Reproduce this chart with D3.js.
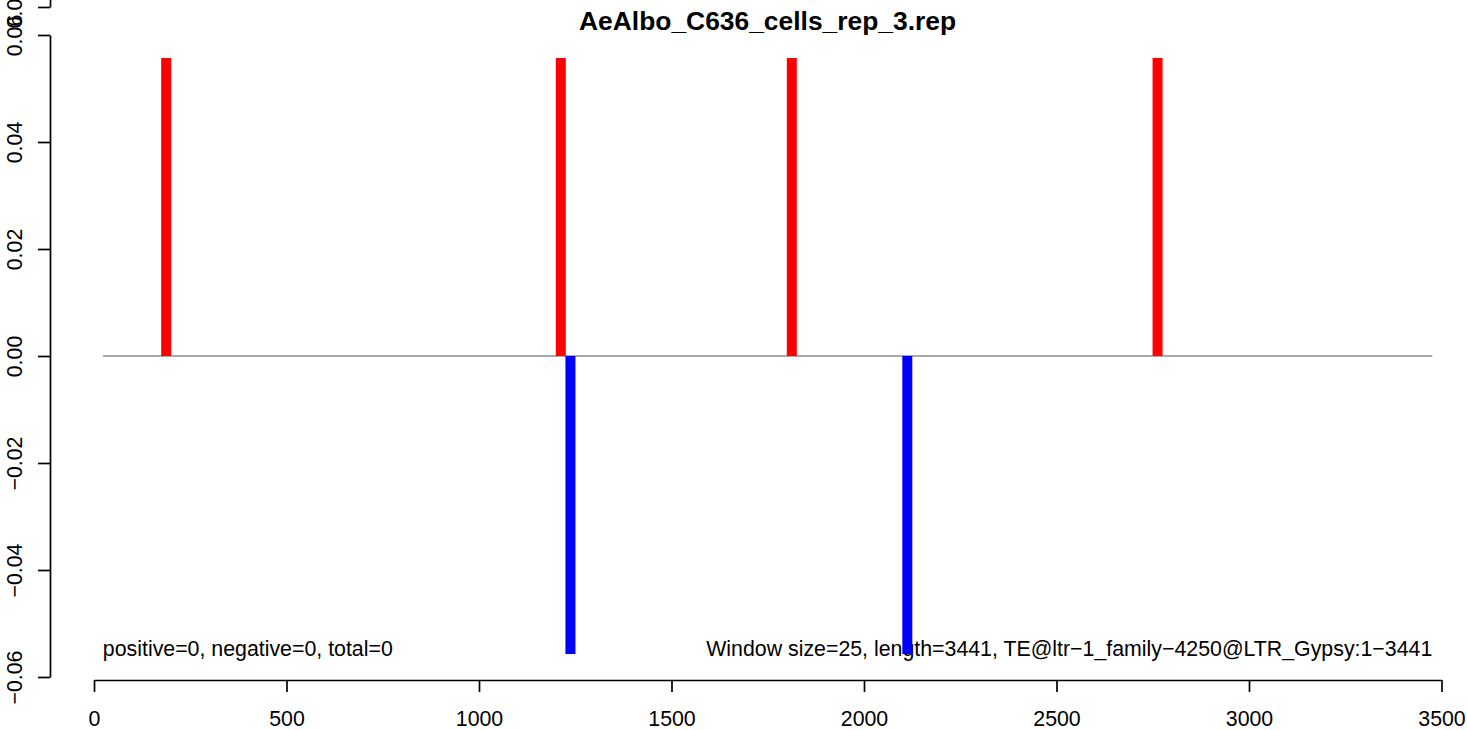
<!DOCTYPE html>
<html>
<head>
<meta charset="utf-8">
<script src="https://cdn.jsdelivr.net/npm/d3@7"></script>
<style>
  html, body { margin: 0; padding: 0; background: #fff; }
  svg { display: block; }
  text { font-family: "Liberation Sans", Arial, Helvetica, sans-serif; }
</style>
</head>
<body>
<svg id="chart" width="1467" height="730"></svg>
<script>
// ---------------- data ----------------
const title = "AeAlbo_C636_cells_rep_3.rep";
const windowSize = 25;
const seqLength = 3441;
const teName = "TE@ltr\u22121_family\u22124250@LTR_Gypsy:1\u22123441";
const positiveWindows = [175, 1200, 1800, 2750];          // window start positions
const positiveValues  = [0.0557, 0.0557, 0.0557, 0.0557];
const negativeWindows = [1225, 2100];
const negativeValues  = [-0.0557, -0.0557];
const xTicks = [0, 500, 1000, 1500, 2000, 2500, 3000, 3500];
const yTicks = [-0.06, -0.04, -0.02, 0.00, 0.02, 0.04, 0.06];
const overlayYTicks = [0.06];   // second (overlaid) axis, mostly off-screen
const plotXExtent = [23, 3476]; // plot region in data units (zero line span)
const counts = { positive: 0, negative: 0, total: 0 };

// ---------------- layout ----------------
const baseFont = 21.33;
const svg = d3.select("#chart");

const x = d3.scaleLinear().domain([0, 3500]).range([94, 1441.5]);
const y = d3.scaleLinear().domain([-0.06, 0.06]).range([677, 35]);
const y2 = d3.scaleLinear().domain([0.06, 0.08]).range([7, -100]);

const axisX = 50, axisY = 680;
const fmt = d3.format(".2f");

// Title
svg.append("text")
  .attr("x", (x(plotXExtent[0]) + x(plotXExtent[1])) / 2)
  .attr("y", 30)
  .attr("text-anchor", "middle")
  .attr("font-weight", "bold")
  .attr("font-size", 26.4)
  .text(title);

// Zero line
svg.append("line")
  .attr("x1", x(plotXExtent[0])).attr("x2", x(plotXExtent[1]))
  .attr("y1", y(0)).attr("y2", y(0))
  .attr("stroke", "#8c8c8c").attr("stroke-width", 1.6);

// Bottom annotations (drawn before bars; bars overlap the text)
svg.append("text")
  .attr("x", x(plotXExtent[0])).attr("y", 656)
  .attr("font-size", baseFont)
  .text(`positive=${counts.positive}, negative=${counts.negative}, total=${counts.total}`);
svg.append("text")
  .attr("x", x(plotXExtent[1])).attr("y", 656)
  .attr("text-anchor", "end")
  .attr("font-size", baseFont)
  .text(`Window size=${windowSize}, length=${seqLength}, ${teName}`);

// Bars
const barW = 10;
const pos = positiveWindows.map((s, i) => ({ mid: s + windowSize / 2, v: positiveValues[i] }));
const neg = negativeWindows.map((s, i) => ({ mid: s + windowSize / 2, v: negativeValues[i] }));
svg.append("g").selectAll("line").data(pos).join("line")
  .attr("x1", d => x(d.mid)).attr("x2", d => x(d.mid))
  .attr("y1", y(0)).attr("y2", d => y(d.v))
  .attr("stroke", "#ff0000").attr("stroke-width", barW);
svg.append("g").selectAll("line").data(neg).join("line")
  .attr("x1", d => x(d.mid)).attr("x2", d => x(d.mid))
  .attr("y1", y(0)).attr("y2", d => y(d.v))
  .attr("stroke", "#0000ff").attr("stroke-width", barW);

// X axis
const gx = svg.append("g").attr("transform", `translate(0,${axisY})`)
  .call(d3.axisBottom(x).tickValues(xTicks).tickFormat(d3.format("d")).tickSize(12).tickSizeOuter(0));
gx.selectAll("text").attr("y", 46).attr("dy", 0).attr("font-size", baseFont).attr("fill", "#000");

function styleY(g) {
  g.selectAll("text")
    .attr("x", 0).attr("y", 0).attr("dy", "0.35em")
    .attr("text-anchor", "middle")
    .attr("transform", "translate(-35.5,0) rotate(-90)")
    .attr("font-size", baseFont).attr("fill", "#000");
}

// Y axis
const gy = svg.append("g").attr("transform", `translate(${axisX},0)`)
  .call(d3.axisLeft(y).tickValues(yTicks).tickFormat(fmt).tickSize(12).tickSizeOuter(0));
styleY(gy);

// Overlaid second y axis (only its lowest tick is visible)
const gy2 = svg.append("g").attr("transform", `translate(${axisX},0)`)
  .call(d3.axisLeft(y2).tickValues(overlayYTicks).tickFormat(fmt).tickSize(12).tickSizeOuter(0));
styleY(gy2);

svg.selectAll(".domain, .tick line").attr("stroke", "#000").attr("stroke-width", 1.7);
svg.selectAll(".tick text").attr("font-family", "'Liberation Sans', Arial, Helvetica, sans-serif");
</script>
</body>
</html>
